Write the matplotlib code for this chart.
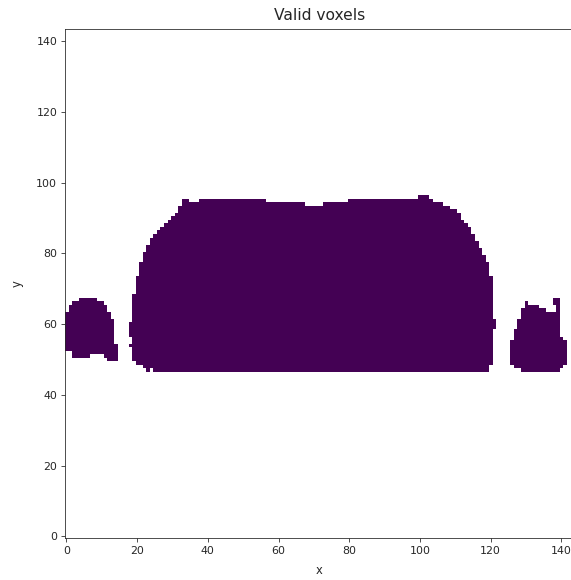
import numpy as np
import matplotlib
matplotlib.use("Agg")
import matplotlib.pyplot as plt

GRID = 144

# ---- left blob: column x, lowest valid y, highest valid y ----
left_x = [0, 1, 2, 3, 4, 5, 6, 7, 8, 9, 10, 11, 12, 13, 14]
left_bottom = [53, 53, 51, 51, 51, 51, 51, 52, 52, 52, 52, 51, 50, 50, 50]
left_top = [63, 65, 66, 66, 67, 67, 67, 67, 67, 66, 66, 65, 63, 61, 54]

# ---- big central blob: columns 19..120 ----
big_x = list(range(19, 121))
big_bottom = [50, 49, 49, 48, 47, 48,              # 19-24
              47, 47, 47, 47, 47, 47, 47, 47, 47, 47,  # 25-34
              47, 47, 47, 47, 47, 47, 47, 47, 47, 47,  # 35-44
              47, 47, 47, 47, 47, 47, 47, 47, 47, 47,  # 45-54
              47, 47, 47, 47, 47, 47, 47, 47, 47, 47,  # 55-64
              47, 47, 47, 47, 47, 47, 47, 47, 47, 47,  # 65-74
              47, 47, 47, 47, 47, 47, 47, 47, 47, 47,  # 75-84
              47, 47, 47, 47, 47, 47, 47, 47, 47, 47,  # 85-94
              47, 47, 47, 47, 47, 47, 47, 47, 47, 47,  # 95-104
              47, 47, 47, 47, 47, 47, 47, 47, 47, 47,  # 105-114
              47, 47, 47, 47, 47,                      # 115-119
              49]                                      # 120
big_top = [68, 73, 77, 80, 82, 84, 85, 86, 87, 88,     # 19-28
           89, 90, 91, 93, 95, 95, 94, 94, 94,         # 29-37
           95, 95, 95, 95, 95, 95, 95, 95, 95, 95,     # 38-47
           95, 95, 95, 95, 95, 95, 95, 95, 95,         # 48-56
           94, 94, 94, 94, 94, 94, 94, 94, 94, 94, 94, # 57-67
           93, 93, 93, 93, 93,                         # 68-72
           94, 94, 94, 94, 94, 94, 94,                 # 73-79
           95, 95, 95, 95, 95, 95, 95, 95, 95, 95,     # 80-89
           95, 95, 95, 95, 95, 95, 95, 95, 95, 95,     # 90-99
           96, 96, 96,                                 # 100-102
           95, 94, 94, 94, 93, 93, 92, 92, 91, 89,     # 103-112
           88, 87, 85, 83, 81, 79, 77, 73]             # 113-120

# ---- right blob ----
right_x = [126, 127, 128, 129, 130, 131, 132, 133, 134, 135, 136, 137, 138, 139, 140, 141]
right_bottom = [49, 48, 48, 47, 47, 47, 47, 47, 47, 47, 47, 47, 47, 47, 48, 49]
right_top = [55, 58, 61, 64, 66, 65, 65, 65, 64, 64, 63, 63, 63, 67, 56, 55]

# ---- isolated small pieces ----
extra_x = [18, 18, 121, 138]
extra_bottom = [54, 57, 59, 66]
extra_top = [54, 60, 61, 67]

valid = np.zeros((GRID, GRID), dtype=bool)
for xs, lo, hi in [(left_x, left_bottom, left_top),
                   (big_x, big_bottom, big_top),
                   (right_x, right_bottom, right_top),
                   (extra_x, extra_bottom, extra_top)]:
    for x, a, b in zip(xs, lo, hi):
        valid[a:b + 1, x] = True

data = np.ma.masked_where(~valid, np.zeros((GRID, GRID)))

W, H, DPI = 571, 580, 72
fig = plt.figure(figsize=(W / DPI, H / DPI), dpi=DPI)
ax = fig.add_axes([64.7 / W, 42 / H, 509 / W, 509 / H])
ax.imshow(data, origin="lower", cmap="viridis", vmin=0, vmax=1,
          interpolation="nearest")
ax.set_title("Valid voxels", fontsize=15.5, pad=9, color="#262626")
ax.set_xlabel("x", fontsize=11.5, labelpad=8, color="#262626")
ax.set_ylabel("y", fontsize=11.5, labelpad=13, color="#262626")
ax.set_xticks([0, 20, 40, 60, 80, 100, 120, 140])
ax.set_yticks([0, 20, 40, 60, 80, 100, 120, 140])
ax.tick_params(labelsize=11, colors="#262626", length=4)
for s in ax.spines.values():
    s.set_color("#262626")

fig.savefig("out.png", dpi=DPI)
